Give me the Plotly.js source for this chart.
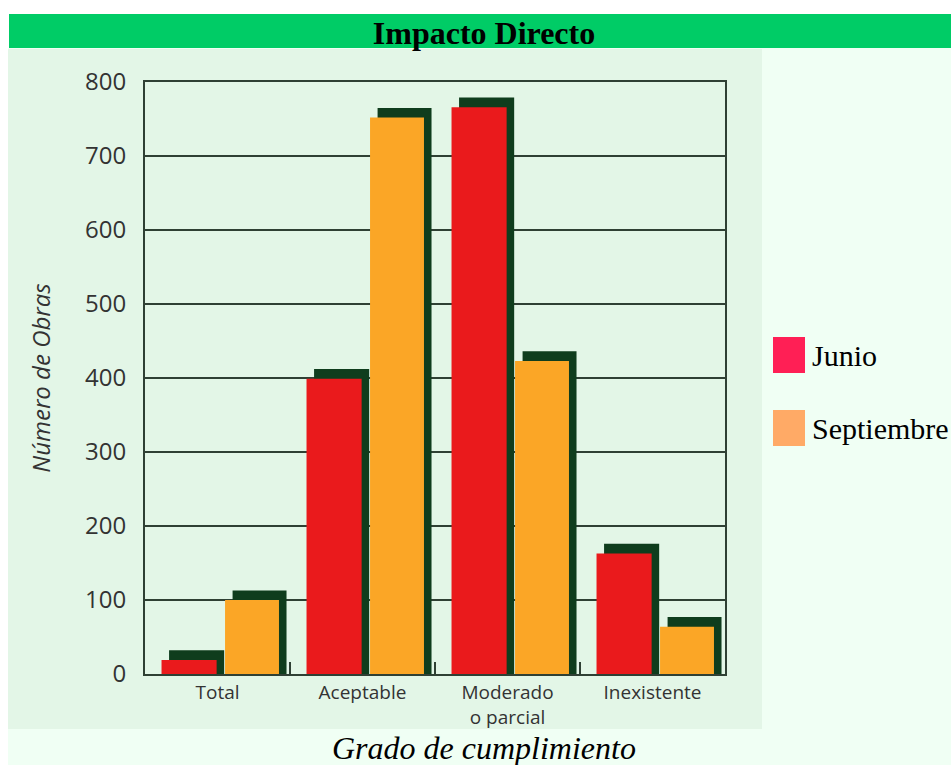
<!DOCTYPE html>
<html>
<head>
<meta charset="utf-8">
<script src="https://cdn.plot.ly/plotly-3.0.1.min.js"></script>
<style>
html,body{margin:0;padding:0;background:#ffffff;}
#chart{width:951px;height:765px;}
</style>
</head>
<body>
<div id="chart"></div>
<script>
// ---- data ----
const categories = ["Total", "Aceptable", "Moderado<br>o parcial", "Inexistente"];
const junio = [19, 399, 766, 163];
const septiembre = [100, 752, 423, 64];
const seriesNames = ["Junio", "Septiembre"];
const yTickValues = [0, 100, 200, 300, 400, 500, 600, 700, 800];

// ---- style ----
const shadowDepth = 13;           // visual drop-shadow height (value units)
const L = 145, R = 725, T = 82, B = 674;
const px2x = p => (p - L) / (R - L);
const py2y = p => (B - p) / (B - T);
const gridCol = '#2f4034';
const shadowCol = '#0f3d1d';
const redCol = '#ea1a1c';
const orangeCol = '#fba626';

const withShadow = arr => arr.map(v => v + shadowDepth);

const traces = [
  {type:'bar', x:categories, y:withShadow(junio), offset:-0.334, width:0.38,
   marker:{color:shadowCol, line:{width:0}}, hoverinfo:'skip'},
  {type:'bar', name:seriesNames[0], x:categories, y:junio, offset:-0.386, width:0.38,
   marker:{color:redCol, line:{width:0}}},
  {type:'bar', x:categories, y:withShadow(septiembre), offset:0.104, width:0.372,
   marker:{color:shadowCol, line:{width:0}}, hoverinfo:'skip'},
  {type:'bar', name:seriesNames[1], x:categories, y:septiembre, offset:0.052, width:0.372,
   marker:{color:orangeCol, line:{width:0}}}
];

const legendColors = ['#ff1f55', '#ffaa66'];
const legendTops = [337, 410];

const shapes = [
  {type:'rect', xref:'paper', yref:'paper', x0:px2x(8), x1:px2x(960), y0:py2y(770), y1:py2y(48),
   fillcolor:'#f0fff4', line:{width:0}, layer:'below'},
  {type:'rect', xref:'paper', yref:'paper', x0:px2x(8), x1:px2x(762), y0:py2y(729), y1:py2y(49),
   fillcolor:'#e3f6e7', line:{width:0}, layer:'below'},
  {type:'rect', xref:'paper', yref:'paper', x0:px2x(9), x1:px2x(960), y0:py2y(48), y1:py2y(14),
   fillcolor:'#00cc66', line:{width:0}, layer:'below'}
];
legendTops.forEach((t, i) => {
  shapes.push({type:'rect', xref:'paper', yref:'paper', x0:px2x(773), x1:px2x(805),
    y0:py2y(t + 36), y1:py2y(t), fillcolor:legendColors[i], line:{width:0}, layer:'below'});
});

const annotations = [
  {text:'Grado de cumplimiento', xref:'paper', yref:'paper', x:px2x(484), y:py2y(748),
   xanchor:'center', yanchor:'middle', showarrow:false,
   font:{family:'Liberation Serif', size:32, style:'italic', color:'#000'}}
];
legendTops.forEach((t, i) => {
  annotations.push({text:seriesNames[i], xref:'paper', yref:'paper', x:px2x(810), y:py2y(t + 18),
    xanchor:'left', yanchor:'middle', showarrow:false,
    font:{family:'Liberation Serif', size:30, color:'#000'}});
});

const layout = {
  width:951, height:765,
  margin:{l:L, r:951 - R, t:T, b:765 - B, pad:0},
  paper_bgcolor:'#ffffff',
  plot_bgcolor:'rgba(0,0,0,0)',
  barmode:'overlay',
  showlegend:false,
  hovermode:false,
  title:{text:'<b>Impacto Directo</b>', x:484/951, xanchor:'center', xref:'container',
         y:1 - 33/765, yanchor:'middle', yref:'container',
         font:{family:'Liberation Serif', size:32, color:'#000'}},
  xaxis:{type:'category', range:[-0.5, 3.5], showgrid:false, zeroline:false,
         showline:true, mirror:true, linecolor:gridCol, linewidth:2,
         ticks:'inside', tickson:'boundaries', ticklen:12, tickcolor:gridCol, tickwidth:1.5,
         tickfont:{family:'Open Sans', size:19, color:'#333333'}},
  yaxis:{range:[0, 800], tickvals:yTickValues, showgrid:true, gridcolor:gridCol, gridwidth:1.5,
         zeroline:false, showline:true, mirror:true, linecolor:gridCol, linewidth:2,
         ticks:'', ticklabelstandoff:12,
         tickfont:{family:'Open Sans', size:24, color:'#333333'},
         title:{text:'Número de Obras', standoff:28,
                font:{family:'Open Sans', size:24, style:'italic', color:'#333333'}}},
  shapes:shapes,
  annotations:annotations
};

Plotly.newPlot('chart', traces, layout, {displayModeBar:false, staticPlot:true});
</script>
</body>
</html>
